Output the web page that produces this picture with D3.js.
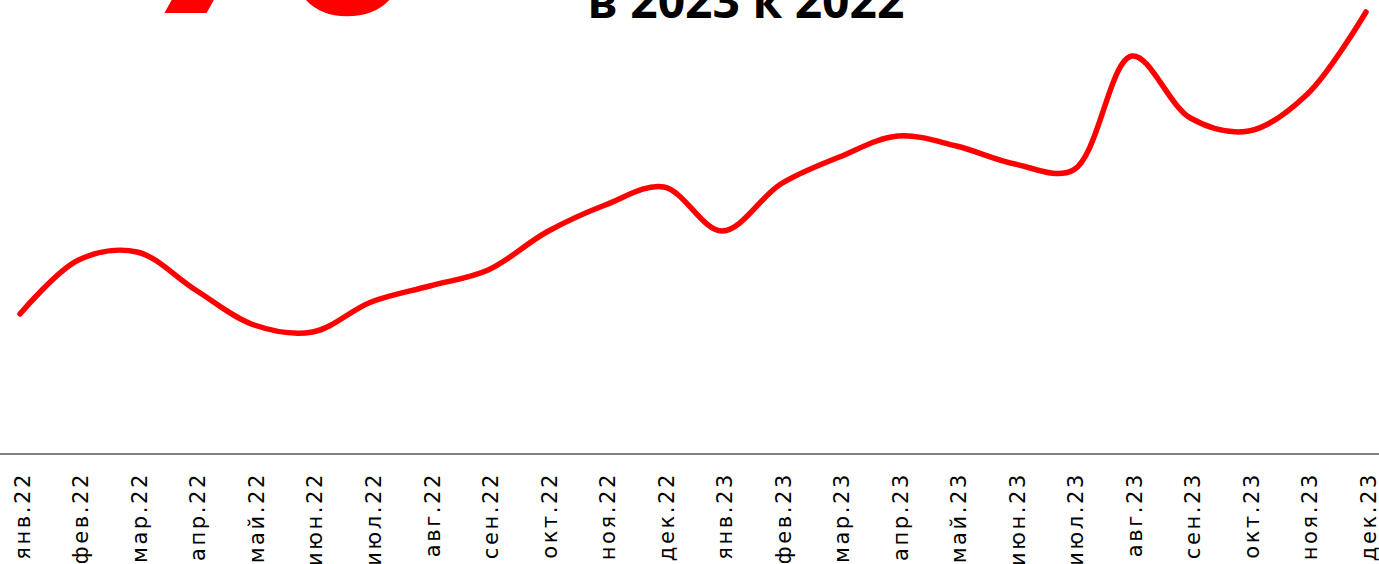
<!DOCTYPE html>
<html><head><meta charset="utf-8">
<script src="https://cdn.jsdelivr.net/npm/d3@7"></script>
<style>html,body{margin:0;padding:0;background:#fff;overflow:hidden}</style>
</head><body>
<svg id="c" width="1379" height="564"></svg>
<script>
const months = ["янв.22","фев.22","мар.22","апр.22","май.22","июн.22","июл.22","авг.22","сен.22","окт.22","ноя.22","дек.22",
"янв.23","фев.23","мар.23","апр.23","май.23","июн.23","июл.23","авг.23","сен.23","окт.23","ноя.23","дек.23"];
const values = [14.0,19.4,20.2,16.4,12.9,12.2,15.2,16.8,18.4,22.2,24.9,26.7,
22.3,27.0,29.7,31.8,30.8,29.0,28.4,39.8,33.6,32.3,36.0,44.2];
const titleText = "в 2023 к 2022";
const bigSign = "%";

const svg = d3.select("#c");
const x = d3.scalePoint().domain(months).range([20,1366]);
const y = d3.scaleLinear().domain([0,45.4]).range([454,0]);

// big red sign (cut at top)
svg.append("text").attr("x",95).attr("y",13)
  .attr("font-family","Open Sans").attr("font-weight",700).attr("font-size",360)
  .attr("fill","#ff0000").text(bigSign);

// title
svg.append("text").attr("x",746).attr("y",18).attr("text-anchor","middle")
  .attr("font-family","Open Sans").attr("font-weight",700).attr("font-size",48)
  .attr("fill","#000").text(titleText);

// axis
const ax = svg.append("g").attr("transform","translate(0,454)")
  .call(d3.axisBottom(x).tickSize(0).tickPadding(0));
ax.select(".domain").attr("d","M0,0H1379").attr("stroke","#595959").attr("stroke-width",1.3);
ax.selectAll(".tick text")
  .attr("transform","translate(2,18) rotate(-90)")
  .attr("x",0).attr("y",0).attr("dy","0.35em")
  .attr("text-anchor","end")
  .attr("font-family","DejaVu Sans").attr("font-size",21).attr("letter-spacing",2.6)
  .attr("fill","#000");

// line
const line = d3.line().x((d,i)=>x(months[i])).y(d=>y(d)).curve(d3.curveCatmullRom.alpha(0.5));
svg.append("path").datum(values).attr("d",line)
  .attr("fill","none").attr("stroke","#ff0000").attr("stroke-width",5.5)
  .attr("stroke-linecap","round").attr("stroke-linejoin","round");
</script>
</body></html>
